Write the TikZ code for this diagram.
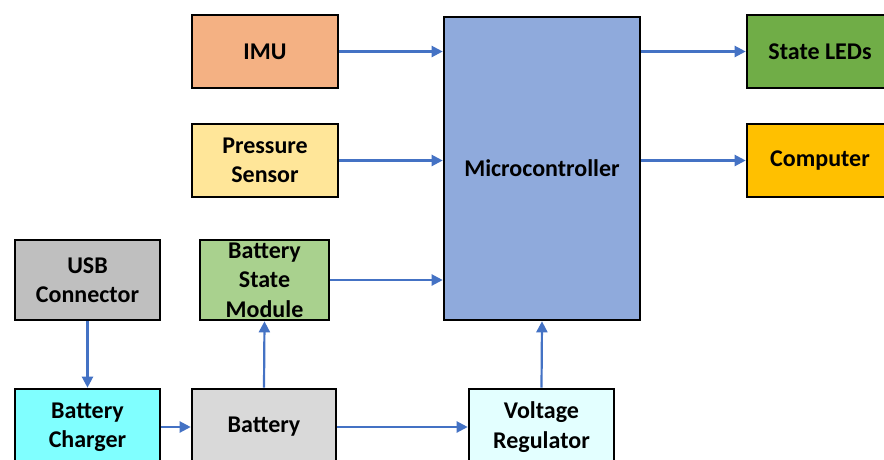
\documentclass[tikz,border=0pt]{standalone}
\usepackage{fontspec}
\setmainfont{Carlito}
\usetikzlibrary{arrows.meta}
\definecolor{cimu}{HTML}{F4B183}
\definecolor{cpress}{HTML}{FFE699}
\definecolor{cusb}{HTML}{BFBFBF}
\definecolor{cbsm}{HTML}{A9D18E}
\definecolor{ccharge}{HTML}{80FFFF}
\definecolor{cbatt}{HTML}{D9D9D9}
\definecolor{cvreg}{HTML}{E3FFFF}
\definecolor{cmicro}{HTML}{8FAADC}
\definecolor{cleds}{HTML}{70AD47}
\definecolor{ccomp}{HTML}{FFC000}
\definecolor{carrow}{HTML}{4472C4}
\tikzset{
  blk/.style={draw=black, line width=2.6pt, inner sep=0pt, align=center,
    font=\fontsize{24}{29.5}\selectfont\bfseries},
  conn/.style={draw=carrow, line width=2.2pt, -{Triangle[length=11pt,width=11pt]}}
}
\begin{document}
\begin{tikzpicture}[x=1pt,y=-1pt]
\useasboundingbox (0,0) rectangle (884,459);
\clip (0,0) rectangle (884,459);
\node[blk, fill=cimu, minimum width=146pt, minimum height=73pt] (imu) at (265,51.5) {IMU};
\node[blk, fill=cpress, minimum width=146pt, minimum height=73pt] (press) at (265,160.5) {Pressure\\Sensor};
\node[blk, fill=cusb, minimum width=145pt, minimum height=80pt] (usb) at (87.5,280) {USB\\Connector};
\node[blk, fill=cbsm, minimum width=129pt, minimum height=80pt] (bsm) at (264.5,280) {Battery\\State\\Module};
\node[blk, fill=cmicro, minimum width=196pt, minimum height=303pt] (micro) at (542,168.5) {Microcontroller};
\node[blk, fill=cleds, minimum width=146pt, minimum height=73pt] (leds) at (820,51.5) {State LEDs};
\node[blk, fill=ccomp, minimum width=146pt, minimum height=73pt] (comp) at (820,160.5) {Computer};
\node[blk, fill=ccharge, minimum width=145pt, minimum height=76pt] (charger) at (87.5,427) {Battery\\Charger};
\node[blk, fill=cbatt, minimum width=144pt, minimum height=76pt] (batt) at (264,427) {Battery};
\node[blk, fill=cvreg, minimum width=145pt, minimum height=76pt] (vreg) at (541.5,427) {Voltage\\Regulator};
\draw[conn] (imu.east) -- (micro.west |- imu.east);
\draw[conn] (press.east) -- (micro.west |- press.east);
\draw[conn] (bsm.east) -- (micro.west |- bsm.east);
\draw[conn] (micro.east |- leds.west) -- (leds.west);
\draw[conn] (micro.east |- comp.west) -- (comp.west);
\draw[conn] (usb.south) -- (charger.north);
\draw[conn] (charger.east) -- (batt.west);
\draw[conn] (batt.east) -- (vreg.west);
\draw[conn] (batt.north) -- (bsm.south);
\draw[conn] (vreg.north) -- (micro.south);
\end{tikzpicture}
\end{document}
